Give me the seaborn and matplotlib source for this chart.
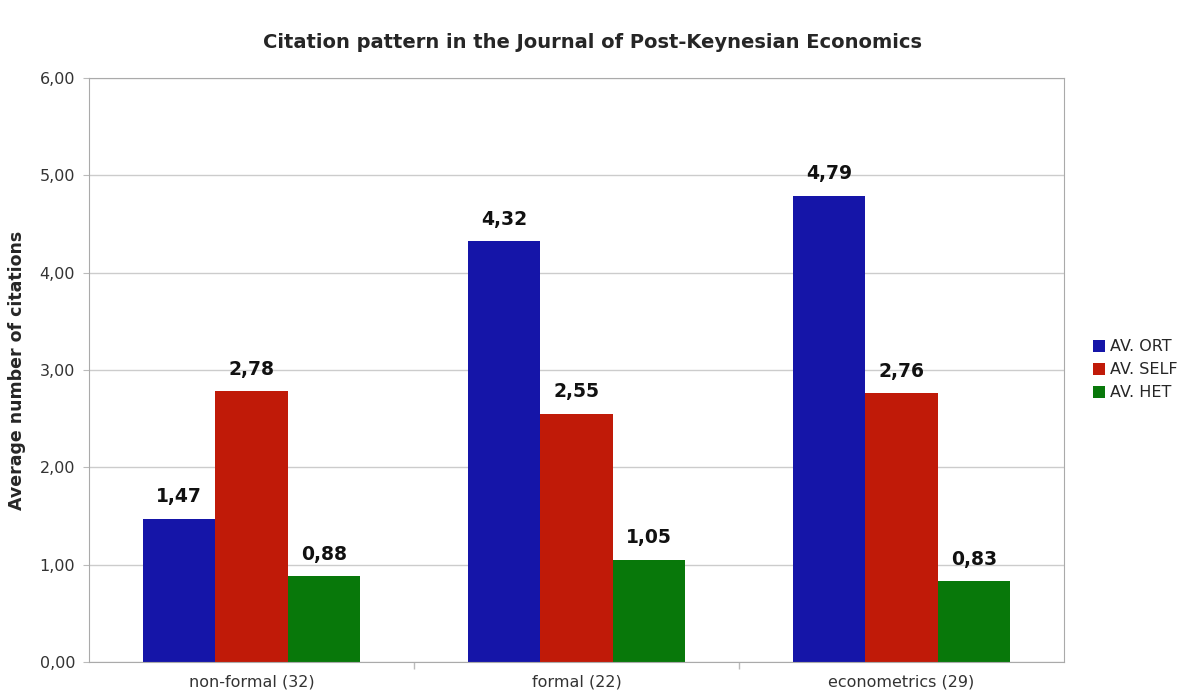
import pandas as pd
import matplotlib
matplotlib.use("Agg")
import matplotlib.pyplot as plt
import seaborn as sns

# data
categories = ["non-formal (32)", "formal (22)", "econometrics (29)"]
series = ["AV. ORT", "AV. SELF", "AV. HET"]
av_ort = [1.47, 4.32, 4.79]
av_self = [2.78, 2.55, 2.76]
av_het = [0.88, 1.05, 0.83]
colors = ["#1515a8", "#c01a08", "#08780a"]

df = pd.DataFrame({
    "cat": categories * 3,
    "series": [series[0]] * 3 + [series[1]] * 3 + [series[2]] * 3,
    "value": av_ort + av_self + av_het,
})

sns.set_style("white")
fig = plt.figure(figsize=(11.85, 6.97), dpi=100)
ax = fig.add_axes([0.0751, 0.0502, 0.8228, 0.838])

sns.barplot(data=df, x="cat", y="value", hue="series", palette=colors,
            width=0.67, saturation=1, linewidth=0, ax=ax, legend=True)

ax.set_ylim(0, 6)
ax.set_xlim(-0.5, 2.5)
ax.set_yticks(range(7))
ax.set_yticklabels([f"{v},00" for v in range(7)], fontsize=11.5, color="#333333")
ax.set_xticks([0.5, 1.5], minor=True)
ax.tick_params(axis="x", which="major", labelsize=11.5, colors="#333333", length=0, pad=9)
ax.tick_params(axis="x", which="minor", bottom=True, length=5, width=1,
               color="#bbbbbb", direction="out")
ax.tick_params(axis="y", left=True, length=4, color="#bbbbbb", pad=6)
ax.yaxis.grid(True, color="#cccccc", linewidth=1)
ax.set_axisbelow(True)
for s in ax.spines.values():
    s.set_color("#aaaaaa")
ax.set_xlabel("")
ax.set_ylabel("Average number of citations", fontsize=12.5, fontweight="bold", labelpad=10)

for cont in ax.containers:
    ax.bar_label(cont, labels=[f"{v:.2f}".replace(".", ",") for v in cont.datavalues],
                 padding=9, fontsize=13.5, fontweight="bold", color="#111111")

ax.legend(loc="center left", bbox_to_anchor=(1.015, 0.5), frameon=False, fontsize=11.5,
          handlelength=0.75, handleheight=0.75, handletextpad=0.3, labelspacing=0.5)

fig.suptitle("Citation pattern in the Journal of Post-Keynesian Economics",
             x=0.5, y=0.952, fontsize=14, fontweight="bold")

fig.savefig("out.png", dpi=100)
